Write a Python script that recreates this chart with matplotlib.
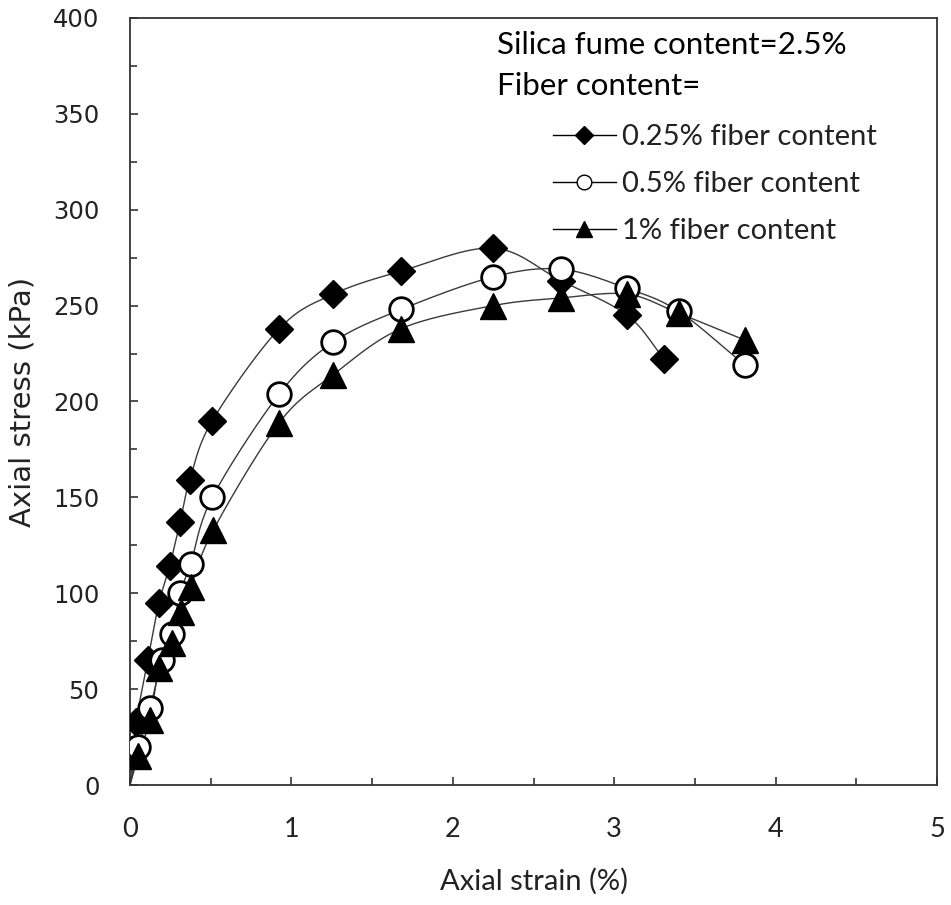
import numpy as np
import matplotlib
matplotlib.use("Agg")
import matplotlib.pyplot as plt
from matplotlib.lines import Line2D
from matplotlib.ticker import MultipleLocator

plt.rcParams['font.family'] = ['Lato', 'DejaVu Sans']

# Axial strain (%) and axial stress (kPa) for each fiber content
strain_025 = [0, 0.04, 0.11, 0.18, 0.245, 0.31, 0.37, 0.51, 0.925, 1.26, 1.68, 2.25, 2.67, 3.08, 3.31]
stress_025 = [0, 33, 65, 95, 114, 137, 159, 190, 238, 256, 268, 280, 263, 245, 222]

strain_05 = [0, 0.05, 0.124, 0.196, 0.258, 0.31, 0.375, 0.51, 0.925, 1.26, 1.68, 2.25, 2.67, 3.08, 3.40, 3.81]
stress_05 = [0, 20, 40, 65, 79, 100, 115, 150, 204, 231, 248, 265, 269, 259, 247, 219]

strain_1 = [0, 0.05, 0.124, 0.18, 0.258, 0.314, 0.376, 0.516, 0.925, 1.26, 1.68, 2.25, 2.67, 3.08, 3.40, 3.81]
stress_1 = [0, 15, 34, 61, 74, 90, 103, 133, 189, 214, 238, 250, 254, 256, 246, 232]

labels = ["0.25% fiber content", "0.5% fiber content", "1% fiber content"]


def smooth(x, y, n=30):
    """Uniform Catmull-Rom curve through the points."""
    p = np.column_stack([x, y]).astype(float)
    ext = np.vstack([2 * p[0] - p[1], p, 2 * p[-1] - p[-2]])
    out = []
    t = np.linspace(0, 1, n, endpoint=False)[:, None]
    for i in range(1, len(ext) - 2):
        p0, p1, p2, p3 = ext[i - 1], ext[i], ext[i + 1], ext[i + 2]
        seg = 0.5 * ((2 * p1) + (-p0 + p2) * t + (2 * p0 - 5 * p1 + 4 * p2 - p3) * t ** 2
                     + (-p0 + 3 * p1 - 3 * p2 + p3) * t ** 3)
        out.append(seg)
    out.append(p[-1:])
    c = np.vstack(out)
    return c[:, 0], c[:, 1]


fig = plt.figure(figsize=(9.51, 9.05), dpi=100)
ax = fig.add_axes([130 / 951, 120 / 905, 807 / 951, 767 / 905])

line_color = "#3a3a3a"
series = [
    (strain_025, stress_025, dict(marker="D", ms=14, mfc="black", mec="black", mew=1.0)),
    (strain_05, stress_05, dict(marker="o", ms=17, mfc="white", mec="black", mew=2.0)),
    (strain_1, stress_1, dict(marker="^", ms=18.5, mfc="black", mec="black", mew=1.0)),
]

handles = []
for (sx, sy, mk), lab in zip(series, labels):
    cx, cy = smooth(sx, sy)
    ax.plot(cx, cy, color=line_color, lw=1.0, zorder=2)
    ax.plot(sx[1:], sy[1:], ls="none", zorder=3, **mk)
    hmk = dict(mk)
    hmk["ms"] = mk["ms"] * 0.62
    hmk["mew"] = 1.0
    handles.append(Line2D([], [], color="black", lw=1.0, label=lab, **hmk))

ax.set_xlim(0, 5)
ax.set_ylim(0, 400)
ax.xaxis.set_major_locator(MultipleLocator(1))
ax.xaxis.set_minor_locator(MultipleLocator(0.5))
ax.yaxis.set_major_locator(MultipleLocator(50))
ax.yaxis.set_minor_locator(MultipleLocator(25))
ax.tick_params(which="both", direction="in", color="#333333", width=1.2)
ax.tick_params(which="major", length=6, labelcolor="#222222")
ax.tick_params(which="minor", length=5)
ax.tick_params(axis="y", which="major", pad=22)
ax.tick_params(axis="x", which="major", pad=23, labelsize=19.5)
for lab in ax.get_yticklabels():
    lab.set_fontfamily(["DejaVu Sans"])
    lab.set_fontsize(17.5)
for s in ax.spines.values():
    s.set_linewidth(1.3)
    s.set_color("#333333")

ax.set_xlabel("Axial strain (%)", fontsize=21, color="#222222", labelpad=19)
ax.set_ylabel("Axial stress (kPa)", fontsize=21, color="#222222", labelpad=12,
              fontfamily=["DejaVu Sans"])

ax.text(497 / 951, 1 - 45 / 905, "Silica fume content=2.5%", transform=fig.transFigure,
        fontsize=22.5, color="black", va="center", ha="left")
ax.text(497 / 951, 1 - 86 / 905, "Fiber content=", transform=fig.transFigure,
        fontsize=22.5, color="black", va="center", ha="left")

leg = ax.legend(handles=handles, loc="upper left", bbox_to_anchor=(553 / 951, 1 - 124 / 905),
                bbox_transform=fig.transFigure, frameon=False, fontsize=21,
                handlelength=2.15, handletextpad=0.2, labelspacing=0.72,
                borderpad=0, borderaxespad=0)
for t in leg.get_texts():
    t.set_color("#222222")

fig.savefig("out.png", dpi=100, facecolor="white")
